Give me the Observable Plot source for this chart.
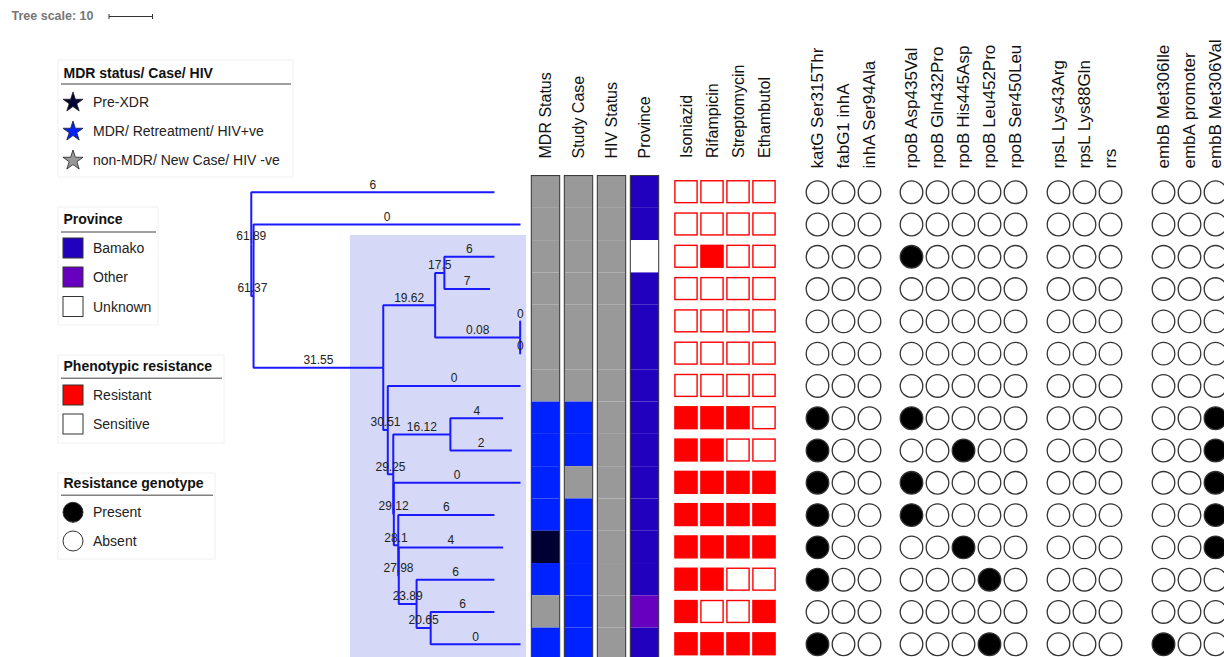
<!DOCTYPE html>
<html><head><meta charset="utf-8">
<script src="https://cdn.jsdelivr.net/npm/d3@7"></script>
<script src="https://cdn.jsdelivr.net/npm/@observablehq/plot@0.6"></script>
<style>
html,body{margin:0;padding:0;background:#fff;}
#chart{position:relative;width:1224px;height:657px;overflow:hidden;font-family:"Liberation Sans",Arial,Helvetica,sans-serif;background:#fff;}
</style></head><body><div id="chart"></div>
<script>
// ================= DATA =================
// Tree: tips (top to bottom) with their heights (age labels), internal nodes with heights and children
const tipNames = ["t0","t1","t2","t3","t4","t5","t6","t7","t8","t9","t10","t11","t12","t13","t14"];
const tipHeights = [6,0,6,7,0,0,0,4,2,0,6,4,6,6,0];
const nodeNames = ["n0","n1","n2","n3","n4","n5","n6","n7","n8","n9","n10","n11","n12","n13"];
const nodeHeights = [61.89,61.37,31.55,19.62,17.5,0.08,30.51,29.25,16.12,29.12,28.1,27.98,23.89,20.65];
const nodeChildren = [["t0","n1"],["t1","n2"],["n3","n6"],["n4","n5"],["t2","t3"],["t4","t5"],["t6","n7"],["n8","n9"],["t7","t8"],["t9","n10"],["t10","n11"],["t11","n12"],["t12","n13"],["t13","t14"]];
const treeScaleLength = 10;
const cladeHighlight = [{fromHeight: 39.1, toHeight: -1.4, firstTip: 2, lastTip: 14}];

// Metadata strips
const metaColumns = ["MDR Status","Study Case","HIV Status","Province"];
const mdrStatus = ["non-MDR","non-MDR","non-MDR","non-MDR","non-MDR","non-MDR","non-MDR","MDR","MDR","MDR","MDR","Pre-XDR","MDR","non-MDR","MDR"];
const studyCase = ["New Case","New Case","New Case","New Case","New Case","New Case","New Case","Retreatment","Retreatment","New Case","Retreatment","Retreatment","Retreatment","Retreatment","Retreatment"];
const hivStatus = ["HIV -ve","HIV -ve","HIV -ve","HIV -ve","HIV -ve","HIV -ve","HIV -ve","HIV -ve","HIV -ve","HIV -ve","HIV -ve","HIV -ve","HIV -ve","HIV -ve","HIV -ve"];
const province = ["Bamako","Bamako","Unknown","Bamako","Bamako","Bamako","Bamako","Bamako","Bamako","Bamako","Bamako","Bamako","Bamako","Other","Bamako"];
const categoryNames = ["non-MDR","MDR","Pre-XDR","New Case","Retreatment","HIV -ve","HIV +ve","Bamako","Other","Unknown"];
const categoryColors = ["#999999","#0022ff","#000033","#999999","#0022ff","#999999","#0022ff","#2100be","#6800c0","#ffffff"];

// Phenotypic resistance (1 = resistant)
const drugColumns = ["Isoniazid","Rifampicin","Streptomycin","Ethambutol"];
const isoniazid    = [0,0,0,0,0,0,0,1,1,1,1,1,1,1,1];
const rifampicin   = [0,0,1,0,0,0,0,1,1,1,1,1,1,0,1];
const streptomycin = [0,0,0,0,0,0,0,1,0,1,1,1,0,0,1];
const ethambutol   = [0,0,0,0,0,0,0,0,0,1,1,1,0,1,1];

// Resistance genotype (1 = present)
const inhGenes = ["katG Ser315Thr","fabG1 inhA","inhA Ser94Ala"];
const rpoGenes = ["rpoB Asp435Val","rpoB Gln432Pro","rpoB His445Asp","rpoB Leu452Pro","rpoB Ser450Leu"];
const strGenes = ["rpsL Lys43Arg","rpsL Lys88Gln","rrs"];
const embGenes = ["embB Met306Ile","embA promoter","embB Met306Val"];
const katG_Ser315Thr = [0,0,0,0,0,0,0,1,1,1,1,1,1,0,1];
const fabG1_inhA     = [0,0,0,0,0,0,0,0,0,0,0,0,0,0,0];
const inhA_Ser94Ala  = [0,0,0,0,0,0,0,0,0,0,0,0,0,0,0];
const rpoB_Asp435Val = [0,0,1,0,0,0,0,1,0,1,1,0,0,0,0];
const rpoB_Gln432Pro = [0,0,0,0,0,0,0,0,0,0,0,0,0,0,0];
const rpoB_His445Asp = [0,0,0,0,0,0,0,0,1,0,0,1,0,0,0];
const rpoB_Leu452Pro = [0,0,0,0,0,0,0,0,0,0,0,0,1,0,1];
const rpoB_Ser450Leu = [0,0,0,0,0,0,0,0,0,0,0,0,0,0,0];
const rpsL_Lys43Arg  = [0,0,0,0,0,0,0,0,0,0,0,0,0,0,0];
const rpsL_Lys88Gln  = [0,0,0,0,0,0,0,0,0,0,0,0,0,0,0];
const rrs            = [0,0,0,0,0,0,0,0,0,0,0,0,0,0,0];
const embB_Met306Ile = [0,0,0,0,0,0,0,0,0,0,0,0,0,0,1];
const embA_promoter  = [0,0,0,0,0,0,0,0,0,0,0,0,0,0,0];
const embB_Met306Val = [0,0,0,0,0,0,0,1,1,1,1,1,0,0,0];

// ================= LAYOUT =================
const W = 1224, H = 657;
const font = '"Liberation Sans", Arial, Helvetica, sans-serif';
const chart = document.getElementById("chart");
const rowTop = 191.7, rowStep = 32.29;
const yScale = {domain: [0, tipNames.length - 1], range: [rowTop, rowTop + rowStep * (tipNames.length - 1)], axis: null};

function layer(opts) {
  const svg = Plot.plot({width: W, height: H, margin: 0,
    style: {background: "transparent", fontFamily: font, overflow: "visible"}, ...opts});
  svg.style.position = "absolute"; svg.style.left = "0px"; svg.style.top = "0px";
  chart.appendChild(svg);
  return svg;
}
const header = (cols, dy, fontSize = 16) => Plot.text(cols, {x: d => d, frameAnchor: "top", dy, rotate: -90,
  textAnchor: "start", lineAnchor: "middle", fontSize, fill: "#111"});

// ---- Tree ----
const nodes = new Map();
tipNames.forEach((n, i) => nodes.set(n, {h: tipHeights[i], y: i}));
nodeNames.forEach((n, i) => nodes.set(n, {h: nodeHeights[i], children: nodeChildren[i]}));
function yOf(n) { const d = nodes.get(n); if (d.y === undefined) { const ys = d.children.map(yOf); d.y = (ys[0] + ys[ys.length - 1]) / 2; } return d.y; }
nodeNames.forEach(yOf);
const edges = [];
nodeNames.forEach(n => { const p = nodes.get(n); p.children.forEach(c => { const ch = nodes.get(c); ch.parent = p; edges.push({x1: p.h, y1: p.y, x2: ch.h, y2: ch.y}); }); });
const treeLabels = [];
nodes.forEach(d => treeLabels.push({x: d.parent ? (d.parent.h + d.h) / 2 : d.h, y: d.y, text: String(d.h)}));
const maxH = d3.max(nodeHeights), pxPerUnit = 4.35, tipX = 520;

const treePlot = layer({
  x: {domain: [0, maxH], range: [tipX, tipX - maxH * pxPerUnit], axis: null},
  y: yScale,
  marks: [
    Plot.rect(cladeHighlight, {x1: "fromHeight", x2: "toHeight", y1: d => d.firstTip - 0.66, y2: d => d.lastTip + 0.8, fill: "#d5d9f7"}),
    Plot.link(edges, {x1: "x1", y1: "y1", x2: "x2", y2: "y2", curve: "step-before", stroke: "#1a1aff", strokeWidth: 2}),
    Plot.text(treeLabels, {x: "x", y: "y", text: "text", dy: -7.5, fontSize: 12, fill: "#222"})
  ]
});

// ---- Metadata strips ----
const metaSeries = [mdrStatus, studyCase, hivStatus, province];
const metaCells = [];
metaColumns.forEach((col, j) => metaSeries[j].forEach((v, i) => metaCells.push({col, row: i, value: v})));
layer({
  x: {type: "band", domain: metaColumns, range: [528.4, 661], padding: 0, axis: null},
  y: yScale,
  color: {type: "ordinal", domain: categoryNames, range: categoryColors},
  marks: [
    Plot.barY(metaCells, {x: "col", y1: d => d.row - 0.5, y2: d => d.row + 0.5, fill: "value", insetLeft: 2.3, insetRight: 2.3}),
    Plot.barY(metaColumns, {x: d => d, y1: -0.5, y2: tipNames.length, fill: "none", stroke: "#333", strokeWidth: 1, insetLeft: 2.3, insetRight: 2.3}),
    header(metaColumns, 158)
  ]
});

// ---- Phenotype ----
const drugSeries = [isoniazid, rifampicin, streptomycin, ethambutol];
const phenoCells = [];
drugColumns.forEach((col, j) => drugSeries[j].forEach((v, i) => phenoCells.push({col, row: i, value: v ? "Resistant" : "Sensitive"})));
layer({
  x: {type: "band", domain: drugColumns, range: [673, 777], padding: 0, axis: null},
  y: yScale,
  color: {type: "ordinal", domain: ["Resistant", "Sensitive"], range: ["#ff0000", "#ffffff"]},
  marks: [
    Plot.barY(phenoCells, {x: "col", y1: d => d.row - 0.5, y2: d => d.row + 0.5, fill: "value", stroke: "#ff0000", strokeWidth: 1.4,
      insetLeft: 1.9, insetRight: 1.9, insetTop: 5.2, insetBottom: 5.2}),
    header(drugColumns, 157.5)
  ]
});

// ---- Genotype ----
const genoGroups = [
  {cols: inhGenes, series: [katG_Ser315Thr, fabG1_inhA, inhA_Ser94Ala], start: 804.3},
  {cols: rpoGenes, series: [rpoB_Asp435Val, rpoB_Gln432Pro, rpoB_His445Asp, rpoB_Leu452Pro, rpoB_Ser450Leu], start: 898.3},
  {cols: strGenes, series: [rpsL_Lys43Arg, rpsL_Lys88Gln, rrs], start: 1044.7},
  {cols: embGenes, series: [embB_Met306Ile, embA_promoter, embB_Met306Val], start: 1149.7}
];
const colStep = 26;
genoGroups.forEach(g => {
  const cells = [];
  g.cols.forEach((col, j) => g.series[j].forEach((v, i) => cells.push({col, row: i, value: v ? "Present" : "Absent"})));
  layer({
    x: {type: "band", domain: g.cols, range: [g.start, g.start + colStep * g.cols.length], padding: 0, axis: null},
    y: yScale,
    color: {type: "ordinal", domain: ["Present", "Absent"], range: ["#000000", "#ffffff"]},
    marks: [
      Plot.dot(cells, {x: "col", y: "row", fill: "value", r: 11.3, stroke: "#333", strokeWidth: 1.3}),
      header(g.cols, 168, 17)
    ]
  });
});

// ---- Legends & tree scale (HTML/SVG overlay) ----
const svg = d3.select(chart).append("svg").attr("width", W).attr("height", H)
  .style("position", "absolute").style("left", "0px").style("top", "0px").style("font-family", font);

const sx = treePlot.scale("x");
const barLen = Math.abs(sx.apply(treeScaleLength) - sx.apply(0));
svg.append("text").attr("x", 11.5).attr("y", 16).attr("dominant-baseline", "central")
  .attr("font-size", 12.5).attr("font-weight", "bold").attr("fill", "#777").text("Tree scale: " + treeScaleLength);
const bx = 109, by = 16.5;
svg.append("line").attr("x1", bx).attr("x2", bx + barLen).attr("y1", by).attr("y2", by).attr("stroke", "#333").attr("stroke-width", 1);
[bx, bx + barLen].forEach(x => svg.append("line").attr("x1", x).attr("x2", x).attr("y1", by - 2.5).attr("y2", by + 2.5).attr("stroke", "#333").attr("stroke-width", 1));

const legends = [
  {x: 58, y: 60, w: 235, h: 117, title: "MDR status/ Case/ HIV", titleY: 73, lineY: 84,
   items: [{y: 101.5, shape: "star", fill: "#000033", label: "Pre-XDR"},
           {y: 130.5, shape: "star", fill: "#0022ff", label: "MDR/ Retreatment/ HIV+ve"},
           {y: 159.5, shape: "star", fill: "#999999", label: "non-MDR/ New Case/ HIV -ve"}]},
  {x: 58, y: 207, w: 100, h: 118, title: "Province", titleY: 219, lineY: 232,
   items: [{y: 248, shape: "square", fill: "#2100be", label: "Bamako"},
           {y: 277, shape: "square", fill: "#6800c0", label: "Other"},
           {y: 306.5, shape: "square", fill: "#ffffff", label: "Unknown"}]},
  {x: 58, y: 355, w: 166, h: 88, title: "Phenotypic resistance", titleY: 365.5, lineY: 378.3,
   items: [{y: 395, shape: "square", fill: "#ff0000", label: "Resistant"},
           {y: 424, shape: "square", fill: "#ffffff", label: "Sensitive"}]},
  {x: 58, y: 473, w: 157, h: 86, title: "Resistance genotype", titleY: 483.3, lineY: 495.3,
   items: [{y: 512.3, shape: "circle", fill: "#000000", label: "Present"},
           {y: 541, shape: "circle", fill: "#ffffff", label: "Absent"}]}
];
const starPath = d3.symbol(d3.symbolStar, 125)();
legends.forEach(L => {
  const g = svg.append("g");
  g.append("rect").attr("x", L.x).attr("y", L.y).attr("width", L.w).attr("height", L.h).attr("fill", "#fff").attr("stroke", "#f0f0f0");
  g.append("text").attr("x", L.x + 5.5).attr("y", L.titleY).attr("dominant-baseline", "central")
    .attr("font-size", 14).attr("font-weight", "bold").attr("fill", "#111").text(L.title);
  g.append("line").attr("x1", L.x + 3).attr("x2", L.x + L.w - 2).attr("y1", L.lineY).attr("y2", L.lineY).attr("stroke", "#808080").attr("stroke-width", 1.4);
  L.items.forEach(it => {
    const cx = 73;
    if (it.shape === "star") g.append("path").attr("d", starPath).attr("transform", `translate(${cx},${it.y + 1})`).attr("fill", it.fill).attr("stroke", "#222").attr("stroke-width", 0.8);
    else if (it.shape === "square") g.append("rect").attr("x", cx - 10).attr("y", it.y - 10).attr("width", 20).attr("height", 20).attr("fill", it.fill).attr("stroke", "#333").attr("stroke-width", 1);
    else g.append("circle").attr("cx", cx).attr("cy", it.y).attr("r", 10).attr("fill", it.fill).attr("stroke", "#333").attr("stroke-width", 1);
    g.append("text").attr("x", 93).attr("y", it.y).attr("dominant-baseline", "central").attr("font-size", 14).attr("fill", "#222").text(it.label);
  });
});
</script></body></html>
